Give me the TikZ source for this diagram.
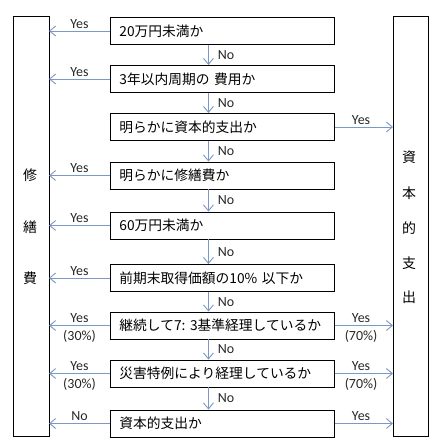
\documentclass[tikz,border=0pt]{standalone}
\usepackage{fontspec}
\newfontfamily\jp{Noto Sans CJK JP}
\newfontfamily\lab{Carlito}
\usetikzlibrary{arrows.meta}
\definecolor{arr}{HTML}{7B98C6}
\begin{document}
\begin{tikzpicture}[x=1bp,y=-1bp,
  qbox/.style={draw=black,line width=0.9bp,minimum width=224bp,minimum height=27bp,text width=218bp,align=left,inner xsep=3bp,inner ysep=0bp,font=\jp\fontsize{13.8}{13.8}\selectfont,anchor=west,execute at begin node={\hspace*{6bp}}},
  sidebox/.style={draw=black,line width=0.9bp,fill=none},
  flow/.style={draw=arr,line width=0.9bp,-{Straight Barb[length=6bp,width=10bp,line width=0.9bp]}},
  lbl/.style={font=\lab\fontsize{14}{14}\selectfont,text=black!85,inner sep=0pt},
  side/.style={font=\jp\fontsize{14}{14}\selectfont,inner sep=0pt}]
\useasboundingbox (0,0) rectangle (441,448);
% side boxes
\draw[sidebox] (13,16) rectangle (49,436);
\draw[sidebox] (393,16) rectangle (428,436);
\coordinate (L) at (49,0);
\coordinate (R) at (393,0);
\node[side] (s1) at (30,175) {修};
\node[side] (s2) at (30,227) {繕};
\node[side] (s3) at (30,278) {費};
\node[side] (t1) at (409,157) {資};
\node[side] (t2) at (409,193) {本};
\node[side] (t3) at (409,228) {的};
\node[side] (t4) at (409,263) {支};
\node[side] (t5) at (409,297) {出};
% question boxes
\node[qbox] (q1) at (110,31) {20万円未満か};
\node[qbox] (q2) at (110,79) {3年以内周期の 費用か};
\node[qbox] (q3) at (110,127) {明らかに資本的支出か};
\node[qbox] (q4) at (110,175.5) {明らかに修繕費か};
\node[qbox] (q5) at (110,225.5) {60万円未満か};
\node[qbox] (q6) at (110,278) {前期末取得価額の10\% 以下か};
\node[qbox] (q7) at (110,325.5) {継続して7:~3基準経理しているか};
\node[qbox] (q8) at (110,373.5) {災害特例により経理しているか};
\node[qbox] (q9) at (110,423.5) {資本的支出か};
% vertical No arrows
\foreach \a/\b in {q1/q2,q2/q3,q3/q4,q4/q5,q5/q6,q6/q7,q7/q8,q8/q9}{
  \draw[flow] ([xshift=-14bp]\a.south) -- ([xshift=-14bp]\b.north)
    node[lbl,midway,right=9bp] {No};
}
% left arrows
\foreach \q in {q1,q2,q4,q5,q6}{
  \draw[flow] (\q.west) -- (L |- \q.west) node[lbl,pos=0.5,above=2bp] {Yes};
}
\foreach \q in {q7,q8}{
  \draw[flow] (\q.west) -- (L |- \q.west) node[lbl,pos=0.5,above=2bp] {Yes}
    node[lbl,pos=0.5,below=4bp] {(30\%)};
}
\draw[flow] (q9.west) -- (L |- q9.west) node[lbl,pos=0.5,above=2bp] {No};
% right arrows
\foreach \q in {q3,q9}{
  \draw[flow] (q3.east |- \q.east) -- (R |- \q.east) node[lbl,pos=0.45,above=2bp] {Yes};
}
\foreach \q in {q7,q8}{
  \draw[flow] (\q.east) -- (R |- \q.east) node[lbl,pos=0.45,above=2bp] {Yes}
    node[lbl,pos=0.45,below=4bp] {(70\%)};
}
\end{tikzpicture}
\end{document}
